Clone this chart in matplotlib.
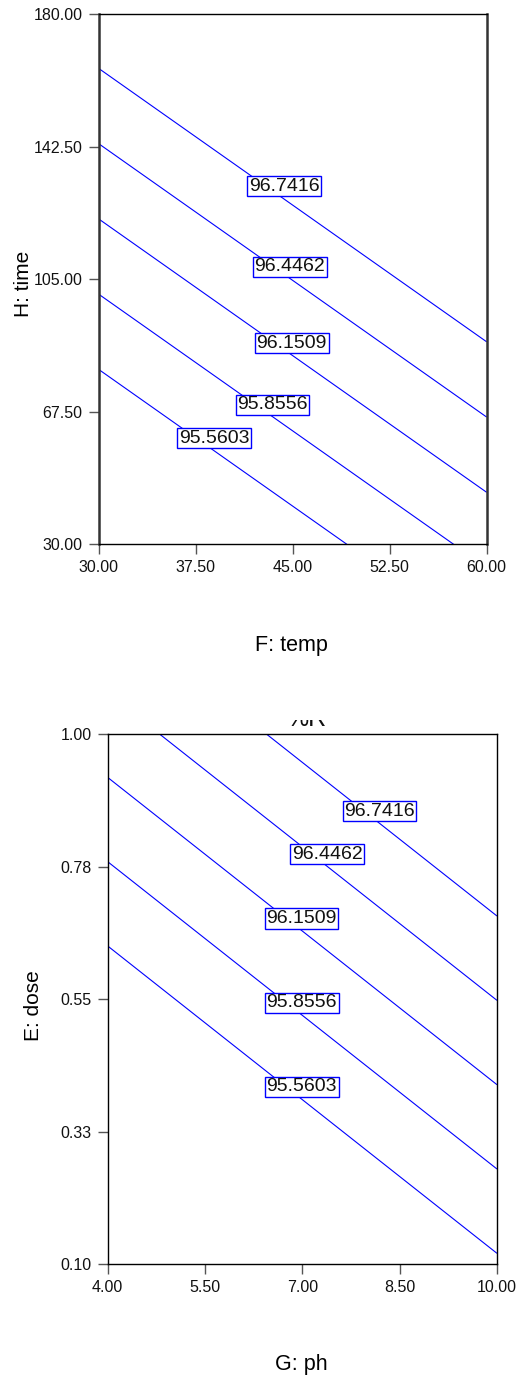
import matplotlib
matplotlib.use("Agg")
import matplotlib.pyplot as plt
from matplotlib.patches import Rectangle
import numpy as np

plt.rcParams['font.family'] = ['Liberation Sans', 'DejaVu Sans']

# ---------------- data ----------------
levels = [95.5603, 95.8556, 96.1509, 96.4462, 96.7416]
level_labels = ["95.5603", "95.8556", "96.1509", "96.4462", "96.7416"]

# top panel: %R over F: temp (x) and H: time (y), corner values of the response
temp_vals = [30.0, 60.0]
time_vals = [30.0, 180.0]
r_temp_time = [[94.874, 95.947],
               [96.954, 98.027]]
temp_ticks = [30.0, 37.5, 45.0, 52.5, 60.0]
temp_ticklabels = ["30.00", "37.50", "45.00", "52.50", "60.00"]
time_ticks = [30.0, 67.5, 105.0, 142.5, 180.0]
time_ticklabels = ["30.00", "67.50", "105.00", "142.50", "180.00"]

# bottom panel: %R over G: ph (x) and E: dose (y)
ph_vals = [4.0, 10.0]
dose_vals = [0.10, 1.00]
r_ph_dose = [[94.446, 95.523],
             [96.302, 97.378]]
ph_ticks = [4.0, 5.5, 7.0, 8.5, 10.0]
ph_ticklabels = ["4.00", "5.50", "7.00", "8.50", "10.00"]
dose_ticks = [0.10, 0.325, 0.55, 0.775, 1.00]
dose_ticklabels = ["0.10", "0.33", "0.55", "0.78", "1.00"]

# label placement (layout)
top_label_pos = [(38.93, 60.0), (43.44, 69.5), (44.93, 86.9), (44.77, 108.6), (44.34, 131.35)]
bot_label_pos = [(6.99, 0.401), (6.99, 0.544), (6.99, 0.687), (7.38, 0.796), (8.19, 0.869)]

W, H = 524, 1378
fig = plt.figure(figsize=(W / 100, H / 100), dpi=100)

def setup(ax, xt, xtl, yt, ytl, thick_sides):
    ax.set_xticks(xt)
    ax.set_xticklabels(xtl)
    ax.set_yticks(yt)
    ax.set_yticklabels(ytl)
    ax.set_xlim(xt[0], xt[-1])
    ax.set_ylim(yt[0], yt[-1])
    ax.tick_params(direction='out', length=7.5, width=1.0, color='#555555',
                   labelsize=11.5, pad=4, labelcolor='#111111')
    for s in ax.spines.values():
        s.set_linewidth(1.0)
        s.set_color('black')
    if thick_sides:
        for s in ('left', 'right'):
            ax.spines[s].set_linewidth(1.8)
            ax.spines[s].set_color('#333333')

def draw_labels(ax, pos):
    for (x, y), t in zip(pos, level_labels):
        ax.text(x, y, t, ha='center', va='center', fontsize=14, color='#111111',
                zorder=5,
                bbox=dict(boxstyle='square,pad=0.08', facecolor='white',
                          edgecolor='#0000ff', linewidth=1.0))

# ---- top panel ----
ax1 = fig.add_axes([98.7 / W, (H - 544.3) / H, 388 / W, 530 / H])
X, Y = np.meshgrid(temp_vals, time_vals)
ax1.contour(X, Y, np.array(r_temp_time), levels=levels, colors='#0000ff', linewidths=0.8)
setup(ax1, temp_ticks, temp_ticklabels, time_ticks, time_ticklabels, True)
draw_labels(ax1, top_label_pos)
ax1.set_xlabel("F: temp", fontsize=15.5, va='center')
ax1.xaxis.set_label_coords(0.497, -0.19)
ax1.set_ylabel("H: time", fontsize=15, va='center')
ax1.yaxis.set_label_coords(-0.193, 0.492)

# ---- bottom panel ----
ax2 = fig.add_axes([107.7 / W, (H - 1264) / H, 389.3 / W, 529.7 / H])
X2, Y2 = np.meshgrid(ph_vals, dose_vals)
ax2.contour(X2, Y2, np.array(r_ph_dose), levels=levels, colors='#0000ff', linewidths=0.8)
setup(ax2, ph_ticks, ph_ticklabels, dose_ticks, dose_ticklabels, False)
draw_labels(ax2, bot_label_pos)
ax2.set_xlabel("G: ph", fontsize=15.5, va='center')
ax2.xaxis.set_label_coords(0.498, -0.189)
ax2.set_ylabel("E: dose", fontsize=15, va='center')
ax2.yaxis.set_label_coords(-0.191, 0.488)

# clipped "%R" title of the bottom panel
fig.text(306.5 / W, (H - 726) / H, "%R", ha='center', va='baseline', fontsize=18,
         color='#111111')
fig.add_artist(Rectangle((260 / W, (H - 719.5) / H), 100 / W, 40 / H,
                         transform=fig.transFigure, facecolor='white',
                         edgecolor='none', zorder=10))

fig.savefig("out.png", dpi=100)
